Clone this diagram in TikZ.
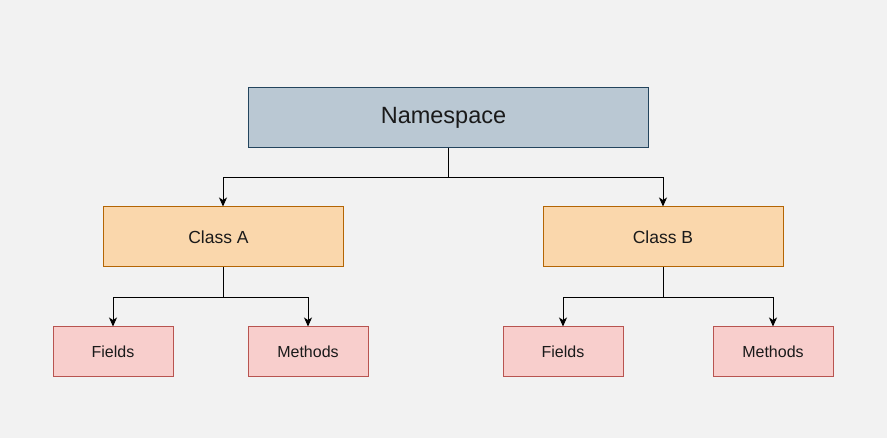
\documentclass[tikz,border=0pt]{standalone}
\usepackage{fontspec}
\setmainfont{Liberation Sans}
\usetikzlibrary{arrows.meta}
\definecolor{bg}{HTML}{F2F2F2}
\definecolor{nsfill}{HTML}{BAC8D3}
\definecolor{nsdraw}{HTML}{23445D}
\definecolor{clfill}{HTML}{FAD7AC}
\definecolor{cldraw}{HTML}{B46504}
\definecolor{mbfill}{HTML}{F8CECC}
\definecolor{mbdraw}{HTML}{B85450}
\definecolor{txt}{HTML}{1A1A1A}
\tikzset{
  nsbox/.style={rectangle, fill=nsfill, draw=nsdraw, line width=1pt, minimum width=400pt, minimum height=60pt, inner sep=0pt, text=txt, font=\fontsize{23.5}{26}\selectfont},
  clbox/.style={rectangle, fill=clfill, draw=cldraw, line width=1pt, minimum width=240pt, minimum height=60pt, inner sep=0pt, text=txt, font=\fontsize{17.5}{20}\selectfont},
  mbbox/.style={rectangle, fill=mbfill, draw=mbdraw, line width=1pt, minimum width=120pt, minimum height=50pt, inner sep=0pt, text=txt, font=\fontsize{16}{18}\selectfont},
  conn/.style={draw=black, line width=1pt, -{Stealth[length=9pt,width=8pt,inset=2.5pt]}}
}
\begin{document}
\begin{tikzpicture}[x=1pt,y=-1pt]
\fill[bg] (0,0) rectangle (887,438);
\useasboundingbox (0,0) rectangle (887,438);
\node[nsbox] (ns) at (448,117.5) {Namespace\hspace*{9pt}};
\node[clbox] (ca) at (223,237) {Class A\hspace*{9pt}};
\node[clbox] (cb) at (663,237) {Class B};
\node[mbbox] (fa) at (113,352) {Fields};
\node[mbbox] (ma) at (308,352) {Methods};
\node[mbbox] (fb) at (563,352) {Fields};
\node[mbbox] (mb) at (773,352) {Methods};
\draw[conn] (ns.south) -- ++(0,30) -| (ca.north);
\draw[conn] (ns.south) -- ++(0,30) -| (cb.north);
\draw[conn] (ca.south) -- ++(0,30) -| (fa.north);
\draw[conn] (ca.south) -- ++(0,30) -| (ma.north);
\draw[conn] (cb.south) -- ++(0,30) -| (fb.north);
\draw[conn] (cb.south) -- ++(0,30) -| (mb.north);
\end{tikzpicture}
\end{document}
